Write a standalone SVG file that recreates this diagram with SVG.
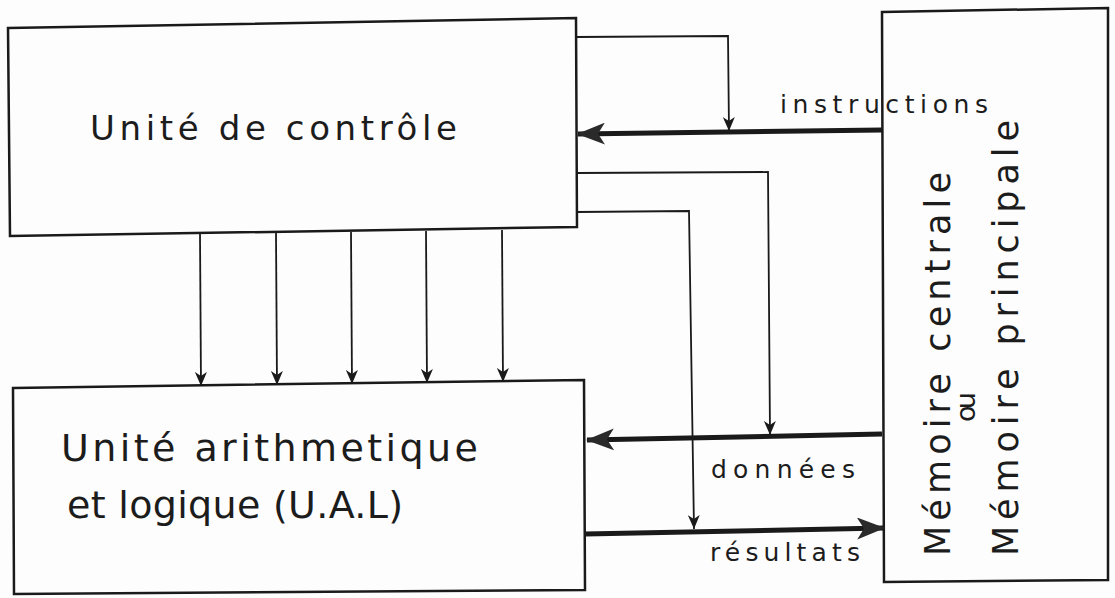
<svg xmlns="http://www.w3.org/2000/svg" width="1115" height="598" viewBox="0 0 1115 598">
  <style>
    .box { fill: none; stroke: #1a1a1a; stroke-width: 2.5; stroke-linejoin: miter; }
    .thin { fill: none; stroke: #1a1a1a; stroke-width: 1.8; }
    .thick { fill: none; stroke: #1a1a1a; stroke-width: 5; }
    .lbl { font-family: "DejaVu Sans", "Liberation Sans", sans-serif; fill: #1c1c1c; }
  </style>
  <defs>
    <marker id="ah" viewBox="0 0 14 12" refX="14" refY="6" markerWidth="14" markerHeight="12" markerUnits="userSpaceOnUse" orient="auto">
      <path d="M0,0 L14,6 L0,12 L4,6 z" fill="#1a1a1a"/>
    </marker>
    <marker id="ahb" viewBox="0 0 28 22" refX="27" refY="11" markerWidth="28" markerHeight="22" markerUnits="userSpaceOnUse" orient="auto">
      <path d="M0,0 L28,11 L0,22 L7,11 z" fill="#2a2a2a"/>
    </marker>
  </defs>
  <rect x="0" y="0" width="1115" height="598" fill="#fdfdfd"/>

  <g id="controle">
    <polygon class="box" points="8,28 576,18 577,227 10,236"/>
    <text class="lbl" x="90" y="140" font-size="34" textLength="367" lengthAdjust="spacing">Unité de contrôle</text>
  </g>

  <g id="ual">
    <polygon class="box" points="13,388 584,380 585,590 14,594"/>
    <text class="lbl" x="61" y="461" font-size="38" textLength="417" lengthAdjust="spacing">Unité arithmetique</text>
    <text class="lbl" x="67" y="518" font-size="38" textLength="336" lengthAdjust="spacing">et logique (U.A.L)</text>
  </g>

  <g id="memoire">
    <polygon class="box" points="882,12 1108,8 1108,580 884,582"/>
    <text class="lbl" font-size="35" transform="translate(950,556) rotate(-90)" textLength="384" lengthAdjust="spacing">Mémoire centrale</text>
    <text class="lbl" font-size="27" transform="translate(975,422) rotate(-90)" textLength="30" lengthAdjust="spacing">ou</text>
    <text class="lbl" font-size="35" transform="translate(1018,556) rotate(-90)" textLength="436" lengthAdjust="spacing">Mémoire principale</text>
  </g>

  <g id="connecteurs">
    <!-- instructions bus -->
    <line class="thick" x1="882" y1="130" x2="578" y2="134" marker-end="url(#ahb)"/>
    <polyline class="thin" points="576,37 728,36 729,131" marker-end="url(#ah)"/>
    <!-- control to data -->
    <polyline class="thin" points="577,173 768,172 770,435" marker-end="url(#ah)"/>
    <polyline class="thin" points="577,212 689,211 694,529" marker-end="url(#ah)"/>
    <!-- données bus -->
    <line class="thick" x1="882" y1="434" x2="587" y2="440" marker-end="url(#ahb)"/>
    <!-- résultats bus -->
    <line class="thick" x1="585" y1="534" x2="884" y2="528" marker-end="url(#ahb)"/>
    <!-- control signals -->
    <line class="thin" x1="200" y1="234" x2="201" y2="386" marker-end="url(#ah)"/>
    <line class="thin" x1="276" y1="233" x2="277" y2="385" marker-end="url(#ah)"/>
    <line class="thin" x1="351" y1="232" x2="352" y2="384" marker-end="url(#ah)"/>
    <line class="thin" x1="426" y1="231" x2="427" y2="383" marker-end="url(#ah)"/>
    <line class="thin" x1="502" y1="230" x2="503" y2="382" marker-end="url(#ah)"/>
  </g>

  <g id="etiquettes">
    <text class="lbl" x="780" y="113" font-size="25" textLength="208" lengthAdjust="spacing">instructions</text>
    <text class="lbl" x="711" y="478" font-size="25" textLength="144" lengthAdjust="spacing">données</text>
    <text class="lbl" x="710" y="561" font-size="25" textLength="150" lengthAdjust="spacing">résultats</text>
  </g>
</svg>
